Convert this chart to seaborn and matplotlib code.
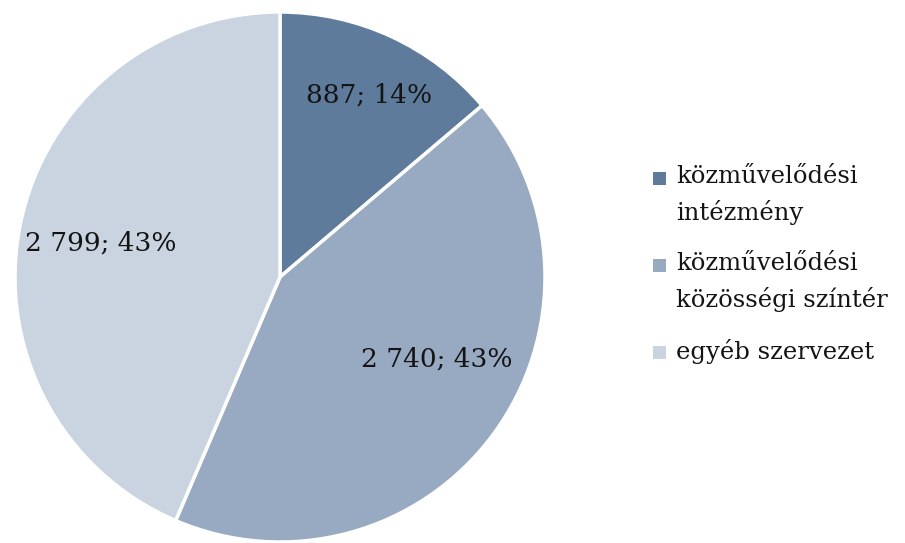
import numpy as np
import matplotlib
matplotlib.use("Agg")
import matplotlib.pyplot as plt
import seaborn as sns
from matplotlib.patches import Rectangle, Wedge
from matplotlib.legend_handler import HandlerPatch

sns.set_theme(style="white")
plt.rcParams['font.family'] = ['DejaVu Serif']

# data
categories = ["közművelődési\nintézmény", "közművelődési\nközösségi színtér", "egyéb szervezet"]
counts = [887, 2740, 2799]
pct_labels = ["887; 14%", "2 740; 43%", "2 799; 43%"]
colors = ["#5f7b9c", "#98a9c2", "#cad4e1"]

# label placement (distance from centre, angle clockwise from top)
label_pos = [(0.765, 26.0), (0.668, 117.6), (0.688, 280.8)]

fig = plt.figure(figsize=(9.05, 5.43), dpi=100)
ax = fig.add_axes([15 / 905, 1 / 543, 530 / 905, 530 / 543])

wedges, _ = ax.pie(counts, colors=colors, startangle=90, counterclock=False,
                   radius=1.0, wedgeprops=dict(edgecolor="white", linewidth=2.5))
ax.set_xlim(-1, 1)
ax.set_ylim(-1, 1)
ax.set_aspect("equal")

for txt, (r, a) in zip(pct_labels, label_pos):
    t = np.deg2rad(a)
    ax.text(r * np.sin(t), r * np.cos(t), txt, ha="center", va="center",
            fontsize=19, color="#141414")


def small_square(legend, orig_handle, xdescent, ydescent, width, height, fontsize):
    # small square marker sitting on the first line of the label
    s = 0.52 * fontsize
    return Rectangle((-xdescent + (width - s) / 2, -ydescent + height - s - 0.29 * fontsize), s, s)


def no_edge(patch, orig):
    patch.update_from(orig)
    patch.set_linewidth(0)
    patch.set_edgecolor("none")


leg = fig.legend(wedges, categories, loc="upper left",
                 bbox_to_anchor=(652 / 905, 1 - 165 / 543), bbox_transform=fig.transFigure,
                 frameon=False, fontsize=17.5, handlelength=0.62, handleheight=1.0,
                 handletextpad=0.38, labelspacing=1.12, borderpad=0, borderaxespad=0,
                 handler_map={Wedge: HandlerPatch(patch_func=small_square, update_func=no_edge)})
for t in leg.get_texts():
    t.set_color("#141414")
    t.set_linespacing(1.59)
for col in leg._legend_handle_box.get_children():
    for item in col.get_children():
        item.align = "top"

fig.savefig("out.png", dpi=100)
